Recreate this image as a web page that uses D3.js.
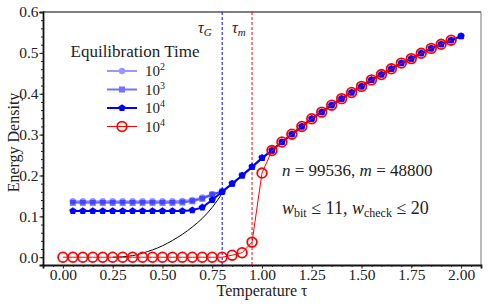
<!DOCTYPE html>
<html>
<head>
<meta charset="utf-8">
<script src="https://cdn.jsdelivr.net/npm/d3@7"></script>
<style>
  body { margin: 0; background: #fff; }
  svg text { font-family: "Liberation Serif", "DejaVu Serif", serif; fill: #222; }
</style>
</head>
<body>
<svg width="488" height="306"></svg>
<script>
// temperatures
var tempBlue = d3.range(1, 41).map(function(i){ return i * 0.05; }); // 0.05 .. 2.00
var tempRed = d3.range(0, 40).map(function(i){ return i * 0.05; });  // 0.00 .. 1.95

// shared high temperature part (1.05 .. 2.00)
var highT = [0.261, 0.282, 0.301, 0.320, 0.339, 0.355, 0.372, 0.388, 0.403, 0.418,
             0.434, 0.447, 0.461, 0.475, 0.486, 0.499, 0.511, 0.521, 0.531, 0.541];

// equilibration time 10^2 (0.05 .. 1.00)
var energy2 = [0.137, 0.137, 0.137, 0.137, 0.137, 0.137, 0.137, 0.137, 0.137, 0.137,
               0.137, 0.138, 0.140, 0.146, 0.154, 0.161, 0.180, 0.200, 0.221, 0.243].concat(highT);
// 10^3
var energy3 = [0.133, 0.133, 0.133, 0.133, 0.133, 0.133, 0.133, 0.133, 0.133, 0.133,
               0.133, 0.134, 0.137, 0.143, 0.153, 0.161, 0.180, 0.200, 0.221, 0.243].concat(highT);
// 10^4
var energy4 = [0.113, 0.113, 0.113, 0.113, 0.113, 0.113, 0.113, 0.113, 0.113, 0.113,
               0.113, 0.113, 0.115, 0.122, 0.140, 0.160, 0.180, 0.200, 0.221, 0.243].concat(highT);
// red 10^4 (0.00 .. 1.95)
var energyRed = [0, 0, 0, 0, 0, 0, 0, 0, 0, 0,
                 0, 0, 0, 0, 0, 0, 0, 0.005, 0.011, 0.037,
                 0.206, 0.261, 0.282, 0.301, 0.320, 0.339, 0.355, 0.372, 0.388, 0.403,
                 0.418, 0.434, 0.447, 0.461, 0.475, 0.486, 0.499, 0.511, 0.521, 0.531];

// black reference curve
var curveT = [0.25, 0.30, 0.35, 0.40, 0.45, 0.50, 0.55, 0.60, 0.65, 0.70, 0.75, 0.80];
var curveE = [0.000, 0.001, 0.004, 0.010, 0.018, 0.028, 0.041, 0.056, 0.074, 0.095, 0.122, 0.156];

var tauG = 0.80, tauM = 0.95;
var xTicks = [0, 0.25, 0.5, 0.75, 1, 1.25, 1.5, 1.75, 2];
var yTicks = [0, 0.1, 0.2, 0.3, 0.4, 0.5, 0.6];
var legendLabels = ["2", "3", "4", "4"];

var serif = "'Liberation Serif', 'DejaVu Serif', serif";
var svg = d3.select("svg");
var pLeft = 43, pRight = 481, pTop = 12, pBottom = 265;

var x = d3.scaleLinear().domain([-0.1, 2.1]).range([pLeft, pRight]);
var y = d3.scaleLinear().domain([-0.019, 0.6]).range([pBottom, pTop]);

// frame top/right
svg.append("line").attr("x1", pLeft).attr("x2", pRight).attr("y1", pTop).attr("y2", pTop)
  .attr("stroke", "#555").attr("stroke-width", 1.5);
svg.append("line").attr("x1", pRight).attr("x2", pRight).attr("y1", pTop).attr("y2", pBottom)
  .attr("stroke", "#777").attr("stroke-width", 1);

// axes
var fmtX = d3.format(".2f"), fmtY = d3.format(".1f");
svg.append("g").attr("transform", "translate(0," + pBottom + ")")
  .call(d3.axisBottom(x).tickValues(xTicks).tickFormat(fmtX).tickSize(3.5).tickPadding(0));
svg.append("g").attr("transform", "translate(0," + pBottom + ")")
  .call(d3.axisBottom(x).tickValues(d3.range(-0.1, 2.1001, 0.05)).tickFormat("").tickSize(2))
  .select(".domain").remove();
svg.append("g").attr("transform", "translate(" + pLeft + ",0)")
  .call(d3.axisLeft(y).tickValues(yTicks).tickFormat(fmtY).tickSize(3.5).tickPadding(1));
svg.append("g").attr("transform", "translate(" + pLeft + ",0)")
  .call(d3.axisLeft(y).tickValues(d3.range(0, 0.6001, 0.02)).tickFormat("").tickSize(2))
  .select(".domain").remove();
svg.selectAll("g").attr("font-family", serif);
svg.selectAll(".domain").attr("stroke", "#111").attr("stroke-width", 1.8);
svg.selectAll(".tick line").attr("stroke", "#222");
svg.selectAll(".tick text").style("font-size", "15.5px").style("font-family", serif).attr("fill", "#222");

// axis labels
svg.append("text").attr("x", (pLeft + pRight) / 2).attr("y", 296).attr("text-anchor", "middle")
  .style("font-size", "16px").text("Temperature \u03C4");
svg.append("text").attr("transform", "translate(19," + ((pTop + pBottom) / 2 + 4) + ") rotate(-90)")
  .attr("text-anchor", "middle").style("font-size", "16px").text("Energy Density");

// black curve
var line = d3.line().x(function(d){ return x(d[0]); }).y(function(d){ return y(d[1]); });
svg.append("path").datum(d3.zip(curveT, curveE))
  .attr("d", line.curve(d3.curveMonotoneX)).attr("fill", "none")
  .attr("stroke", "#000").attr("stroke-width", 1);
line.curve(d3.curveLinear);

// vertical dashed lines
svg.append("line").attr("x1", x(tauG)).attr("x2", x(tauG)).attr("y1", pTop).attr("y2", pBottom)
  .attr("stroke", "#0000ff").attr("stroke-width", 1).attr("stroke-dasharray", "3,2");
svg.append("line").attr("x1", x(tauM)).attr("x2", x(tauM)).attr("y1", pTop).attr("y2", pBottom)
  .attr("stroke", "#ff0000").attr("stroke-width", 1).attr("stroke-dasharray", "3,2");

// marker helpers
function drawSeries(tt, ee, opts) {
  var g = svg.append("g").attr("opacity", opts.opacity);
  g.append("path").datum(d3.zip(tt, ee)).attr("d", line).attr("fill", "none")
    .attr("stroke", opts.color).attr("stroke-width", opts.lw);
  opts.marker(g, d3.zip(tt, ee));
}
function circles(r, fill, stroke, sw) {
  return function(g, data) {
    g.selectAll(null).data(data).enter().append("circle")
      .attr("cx", function(d){ return x(d[0]); }).attr("cy", function(d){ return y(d[1]); })
      .attr("r", r).attr("fill", fill).attr("stroke", stroke).attr("stroke-width", sw);
  };
}
function squares(s) {
  return function(g, data) {
    g.selectAll(null).data(data).enter().append("rect")
      .attr("x", function(d){ return x(d[0]) - s / 2; }).attr("y", function(d){ return y(d[1]) - s / 2; })
      .attr("width", s).attr("height", s).attr("fill", "#0000ff");
  };
}
function pentagons(r) {
  return function(g, data) {
    var pts = d3.range(5).map(function(i){
      var a = -Math.PI / 2 + i * 2 * Math.PI / 5;
      return [r * Math.cos(a), r * Math.sin(a)];
    });
    g.selectAll(null).data(data).enter().append("polygon")
      .attr("points", pts.map(function(p){ return p.join(","); }).join(" "))
      .attr("transform", function(d){ return "translate(" + x(d[0]) + "," + y(d[1]) + ")"; })
      .attr("fill", "#0000ff");
  };
}

var series = [
  { t: tempBlue, e: energy2, color: "#0000ff", opacity: 0.4, lw: 2, marker: circles(3.2, "#0000ff", "none", 0) },
  { t: tempBlue, e: energy3, color: "#0000ff", opacity: 0.55, lw: 2, marker: squares(6) },
  { t: tempBlue, e: energy4, color: "#0000ff", opacity: 1, lw: 2, marker: pentagons(3.8) },
  { t: tempRed, e: energyRed, color: "#ff0000", opacity: 1, lw: 1, marker: circles(4.8, "none", "#ff0000", 1.8) }
];
series.forEach(function(s){ drawSeries(s.t, s.e, s); });

// tau labels
function tauLabel(xp, sub) {
  var t = svg.append("text").attr("x", xp).attr("y", 33).style("font-size", "16px");
  t.append("tspan").style("font-style", "italic").text("\u03C4");
  t.append("tspan").attr("dy", 3).style("font-size", "11px").style("font-style", "italic").text(sub);
}
tauLabel(198, "G");
tauLabel(232, "m");

// legend
svg.append("text").attr("x", 135).attr("y", 57).attr("text-anchor", "middle")
  .style("font-size", "17px").text("Equilibration Time");
series.forEach(function(s, i) {
  var ly = 71 + i * 18.5;
  var g = svg.append("g").attr("opacity", s.opacity);
  g.append("line").attr("x1", 107).attr("x2", 137).attr("y1", ly).attr("y2", ly)
    .attr("stroke", s.color).attr("stroke-width", s.lw);
  s.marker(g, [[x.invert(122), y.invert(ly)]]);
  var t = svg.append("text").attr("x", 145).attr("y", ly + 5).style("font-size", "15px");
  t.append("tspan").text("10");
  t.append("tspan").attr("dy", -6).style("font-size", "10px").text(legendLabels[i]);
});

// annotations
var a1 = svg.append("text").attr("x", 282).attr("y", 176).style("font-size", "17px");
a1.append("tspan").style("font-style", "italic").text("n");
a1.append("tspan").text(" = 99536, ");
a1.append("tspan").style("font-style", "italic").text("m");
a1.append("tspan").text(" = 48800");

var a2 = svg.append("text").attr("x", 282).attr("y", 214).style("font-size", "18px");
a2.append("tspan").style("font-style", "italic").text("w");
a2.append("tspan").attr("dy", 3).style("font-size", "12px").text("bit");
a2.append("tspan").attr("dy", -3).text(" \u2264 11, ");
a2.append("tspan").style("font-style", "italic").text("w");
a2.append("tspan").attr("dy", 3).style("font-size", "12px").text("check");
a2.append("tspan").attr("dy", -3).text(" \u2264 20");
</script>
</body>
</html>
